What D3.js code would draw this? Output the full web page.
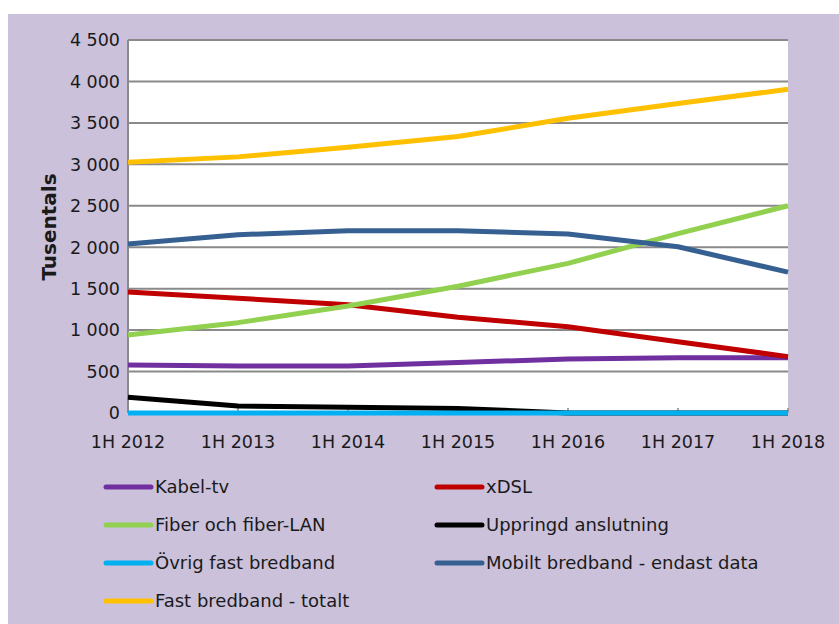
<!DOCTYPE html>
<html>
<head>
<meta charset="utf-8">
<script src="https://cdn.jsdelivr.net/npm/d3@7"></script>
<style>
  body { margin: 0; background: #fff; }
  text { font-family: "DejaVu Sans", Verdana, sans-serif; fill: #1a1a1a; }
</style>
</head>
<body>
<div id="chart"></div>
<script>
const categories = ["1H 2012", "1H 2013", "1H 2014", "1H 2015", "1H 2016", "1H 2017", "1H 2018"];
const kabelTv = [580, 568, 568, 610, 650, 668, 668];
const xdsl = [1460, 1385, 1305, 1155, 1040, 860, 680];
const fiber = [940, 1090, 1290, 1530, 1805, 2165, 2500];
const uppringd = [190, 85, 70, 55, 0, 0, 0];
const ovrig = [0, 0, 0, 0, 0, 0, 0];
const mobilt = [2040, 2150, 2200, 2200, 2160, 2005, 1700];
const fastTotalt = [3025, 3090, 3205, 3335, 3555, 3735, 3905];
const yTicks = [0, 500, 1000, 1500, 2000, 2500, 3000, 3500, 4000, 4500];

const series = [
    { name: "Kabel-tv", values: kabelTv, color: "#7030A0" },
    { name: "xDSL", values: xdsl, color: "#C00000" },
    { name: "Fiber och fiber-LAN", values: fiber, color: "#92D050" },
    { name: "Uppringd anslutning", values: uppringd, color: "#000000" },
    { name: "Övrig fast bredband", values: ovrig, color: "#00B0F0" },
    { name: "Mobilt bredband - endast data", values: mobilt, color: "#376092" },
    { name: "Fast bredband - totalt", values: fastTotalt, color: "#FFC000" }
];

const width = 839, height = 624;
const svg = d3.select("#chart").append("svg")
    .attr("width", width)
    .attr("height", height);

// lavender chart area
svg.append("rect")
    .attr("x", 8).attr("y", 14)
    .attr("width", width - 8).attr("height", height - 14)
    .attr("fill", "#CBC1DB");

const plot = { left: 128, right: 788, top: 40, bottom: 413 };

const x = d3.scalePoint()
    .domain(categories)
    .range([plot.left, plot.right]);

const y = d3.scaleLinear()
    .domain([0, 4500])
    .range([plot.bottom, plot.top]);

svg.append("rect")
    .attr("x", plot.left).attr("y", plot.top)
    .attr("width", plot.right - plot.left)
    .attr("height", plot.bottom - plot.top)
    .attr("fill", "#fff");

// gridlines
svg.append("g")
    .selectAll("line")
    .data(yTicks)
    .enter().append("line")
    .attr("x1", plot.left).attr("x2", plot.right)
    .attr("y1", d => y(d)).attr("y2", d => y(d))
    .attr("stroke", "#8a8a8a")
    .attr("stroke-width", 2);

// y axis line
svg.append("line")
    .attr("x1", plot.left).attr("x2", plot.left)
    .attr("y1", plot.top).attr("y2", plot.bottom)
    .attr("stroke", "#8a8a8a")
    .attr("stroke-width", 2);

// x tick marks (pointing up)
svg.append("g")
    .selectAll("line")
    .data(categories)
    .enter().append("line")
    .attr("x1", d => x(d)).attr("x2", d => x(d))
    .attr("y1", plot.bottom).attr("y2", plot.bottom - 5)
    .attr("stroke", "#8a8a8a")
    .attr("stroke-width", 1.5);

const fmt = d => d3.format(",")(d).replace(/,/g, " ");

svg.append("g")
    .selectAll("text")
    .data(yTicks)
    .enter().append("text")
    .attr("x", plot.left - 8)
    .attr("y", d => y(d))
    .attr("dy", "0.36em")
    .attr("text-anchor", "end")
    .style("font-size", "17.5px")
    .text(fmt);

svg.append("g")
    .selectAll("text")
    .data(categories)
    .enter().append("text")
    .attr("x", d => x(d))
    .attr("y", 448)
    .attr("text-anchor", "middle")
    .style("font-size", "17.5px")
    .text(d => d);

svg.append("text")
    .attr("transform", "translate(56,227) rotate(-90)")
    .attr("text-anchor", "middle")
    .style("font-size", "20px")
    .style("font-weight", "bold")
    .text("Tusentals");

const line = d3.line()
    .x((d, i) => x(categories[i]))
    .y(d => y(d));

svg.append("g")
    .selectAll("path")
    .data(series)
    .enter().append("path")
    .attr("d", d => line(d.values))
    .attr("fill", "none")
    .attr("stroke", d => d.color)
    .attr("stroke-width", 5)
    .attr("stroke-linejoin", "round");

// legend
const legend = svg.append("g")
    .selectAll("g")
    .data(series)
    .enter().append("g")
    .attr("transform", (d, i) => {
        const col = i % 2, row = Math.floor(i / 2);
        const rowY = [487, 525, 563, 601][row];
        return `translate(${col ? 437 : 106},${rowY})`;
    });

legend.append("line")
    .attr("x1", 0).attr("x2", 45)
    .attr("stroke", d => d.color)
    .attr("stroke-width", 5)
    .attr("stroke-linecap", "round");

legend.append("text")
    .attr("x", 49)
    .attr("dy", "0.36em")
    .style("font-size", "18px")
    .text(d => d.name);
</script>
</body>
</html>
